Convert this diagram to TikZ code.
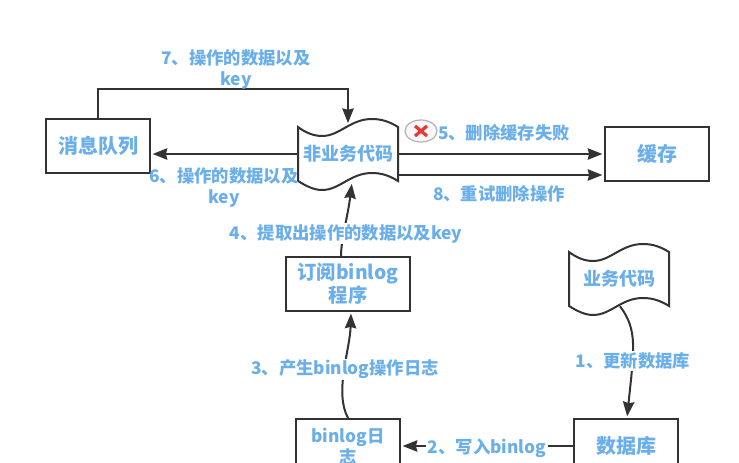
\documentclass[tikz,border=0pt]{standalone}
\usepackage{fontspec}
\setmainfont{Noto Sans CJK SC}
\usetikzlibrary{arrows.meta,calc}
\definecolor{lbl}{HTML}{6AAEEA}
\definecolor{ink}{HTML}{333333}
\definecolor{failred}{HTML}{E53935}
\tikzset{
  line/.style={draw=ink,line width=1.5pt},
  arr/.style={line,-{Stealth[length=11pt,width=8.5pt,inset=1pt]},shorten >=1.2pt},
  boxed/.style={line,minimum width=78pt,minimum height=40.5pt,inner sep=0pt,align=center,text=lbl,font=\fontsize{15}{15.75}\selectfont\bfseries},
  wavedoc/.style={minimum width=75pt,minimum height=40.5pt,inner sep=0pt,align=center,text=lbl,font=\fontsize{13.5}{15.75}\selectfont\bfseries},
  steplabel/.style={inner sep=1pt,align=center,text=lbl,font=\fontsize{13}{15.75}\selectfont\bfseries},
  gaplabel/.style={steplabel,fill=white},
}
\newcommand{\wavepath}[1]{%
  \draw[line,shift={(#1.center)}] (-50,-27) .. controls (-42,-21) and (-34,-18) .. (-26,-18)
    .. controls (-8,-18) and (2,-35) .. (24,-35) .. controls (34,-35) and (42,-32) .. (50,-27)
    -- (50,27) .. controls (42,22) and (34,19) .. (24,19)
    .. controls (2,19) and (-8,36) .. (-26,36) .. controls (-34,36) and (-42,32) .. (-50,27) -- cycle;}
\begin{document}
\begin{tikzpicture}[x=.75pt,y=-.75pt]
\clip (0,0) rectangle (739,463);
\fill[white] (0,0) rectangle (739,463);
% boxes
\node[boxed] (queue) at (98,146) {消息队列};
\node[boxed] (cache) at (657,154) {缓存};
\node[boxed,minimum width=93pt,font=\fontsize{14.5}{15.75}\selectfont\bfseries] (sub) at (348,284) {\raisebox{-1pt}{订阅binlog}\\\raisebox{-1pt}{程序}};
\node[boxed,font=\fontsize{13}{15.75}\selectfont\bfseries] (log) at (348,446) {binlog日\\志};
\node[boxed] (db) at (626,446) {\raisebox{-1pt}{数据库}};
\node[wavedoc] (other) at (348,154) {\raisebox{-1.2pt}{非业务代码}};
\node[wavedoc] (biz) at (619,279) {\raisebox{-1.2pt}{业务代码}};
\wavepath{other}
\wavepath{biz}
% connectors
\coordinate (turn) at (348,89);
\draw[arr] (queue.north) |- (turn) -- ($(other.north)+(0,-2)$);
\draw[arr] (other.west) -- (other.west -| queue.east);
\draw[arr] (other.east) -- (other.east -| cache.west);
\draw[arr] ($(other.east)+(0,21)$) -- ($(other.east -| cache.west)+(0,21)$);
\draw[arr] ($(sub.north)+(-7,0)$) .. controls (341,240) and (348,215) .. ($(other.south)+(4,1)$);
\draw[arr] (log.north) .. controls (334,392) and (350,350) .. ($(sub.south)+(3,0)$);
\draw[arr] (db.west) -- (log.east);
\draw[arr] ($(biz.south)+(1,0)$) .. controls (638,330) and (634,350) .. ($(db.north)+(1,0)$);
% labels
\node[steplabel] (l7) at (236,69) {7、操作的数据以及\\key};
\node[steplabel] (l6) at (224,187) {6、操作的数据以及\\key};
\node[steplabel] (l5) at (504,133) {5、删除缓存失败};
\node[steplabel] (l8) at (499,194) {8、重试删除操作};
\node[gaplabel] (l4) at (346,233.5) {4、提取出操作的数据以及key};
\node[gaplabel] (l3) at (345,369.5) {3、产生binlog操作日志};
\node[gaplabel] (l2) at (487,448) {2、写入binlog};
\node[gaplabel] (l1) at (633,361) {1、更新数据库};
% failure mark
\draw[draw=black!30,fill=black!3,line width=.9pt] (421,131) ellipse [x radius=16,y radius=11];
\draw[draw=failred,line width=2.4pt] (415,126) -- (427,136) (415,136) -- (427,126);
\end{tikzpicture}
\end{document}
